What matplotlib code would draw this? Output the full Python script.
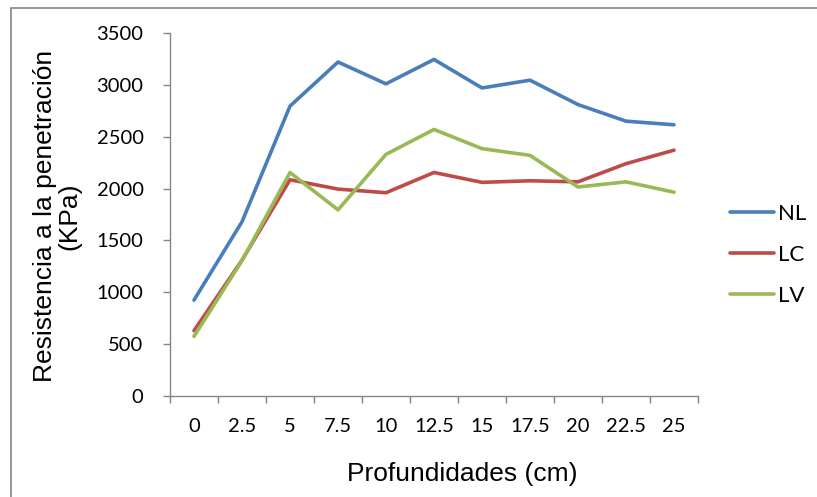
import matplotlib
matplotlib.use("Agg")
import matplotlib.pyplot as plt
from matplotlib.patches import Rectangle

# Depth categories (cm) and penetration resistance (KPa) per treatment
profundidades = ["0", "2.5", "5", "7.5", "10", "12.5", "15", "17.5", "20", "22.5", "25"]
nl = [925, 1680, 2795, 3220, 3010, 3245, 2970, 3045, 2810, 2650, 2615]
lc = [630, 1310, 2085, 1995, 1960, 2155, 2060, 2075, 2065, 2240, 2370]
lv = [575, 1305, 2155, 1795, 2330, 2570, 2385, 2320, 2015, 2065, 1965]
y_ticks = [0, 500, 1000, 1500, 2000, 2500, 3000, 3500]

series = [("NL", nl, "#4A7EBB"), ("LC", lc, "#BE4B48"), ("LV", lv, "#98B954")]

W, H = 817, 497
fig = plt.figure(figsize=(W / 100, H / 100), dpi=100)
fig.patch.set_facecolor("white")

# outer chart frame
fig.add_artist(Rectangle((11 / W, -0.01), 1.0, (H - 7.5) / H + 0.01,
                         transform=fig.transFigure, fill=False,
                         edgecolor="#868686", linewidth=1.2))

ax = fig.add_axes([170 / W, (H - 396) / H, (698 - 170) / W, (396 - 33) / H])
x = list(range(len(profundidades)))
lines = []
for name, vals, col in series:
    (ln,) = ax.plot(x, vals, color=col, linewidth=2.6, label=name,
                    solid_joinstyle="round", solid_capstyle="round")
    lines.append(ln)

axis_col = "#868686"
ax.set_xlim(-0.5, len(profundidades) - 0.5)
ax.set_ylim(0, 3500)
ax.set_yticks(y_ticks)
ax.set_yticklabels([str(v) for v in y_ticks])
ax.set_xticks(x)
ax.set_xticklabels(profundidades)
ax.set_xticks([i - 0.5 for i in range(len(profundidades) + 1)], minor=True)

for side in ("top", "right"):
    ax.spines[side].set_visible(False)
for side in ("left", "bottom"):
    ax.spines[side].set_color(axis_col)
    ax.spines[side].set_linewidth(1.0)

tick_font = dict(family=["Lato", "DejaVu Sans"], size=14.5)
ax.tick_params(axis="y", direction="out", length=5, width=1, color=axis_col,
               pad=14, labelcolor="#000000")
ax.tick_params(axis="x", which="major", length=0, pad=16, labelcolor="#000000")
ax.tick_params(axis="x", which="minor", direction="out", length=5, width=1,
               color=axis_col)
for lab in ax.get_yticklabels() + ax.get_xticklabels():
    lab.set_fontfamily(tick_font["family"])
    lab.set_fontsize(tick_font["size"])

title_font = dict(family=["Liberation Sans", "DejaVu Sans"], size=19)
fig.text(462 / W, 1 - 474 / H, "Profundidades (cm)", ha="center", va="center",
         **title_font)
fig.text(57 / W, 1 - 216 / H, "Resistencia a la penetración\n(KPa)",
         ha="center", va="center", rotation=90, linespacing=1.0, **title_font)

leg = fig.legend(handles=lines, loc="upper left",
                 bbox_to_anchor=(730 / W, 1 - 204 / H), frameon=False,
                 prop=dict(family=["Lato", "DejaVu Sans"], size=16),
                 handlelength=2.0, handletextpad=0.15, labelspacing=0.95,
                 borderaxespad=0, borderpad=0)

fig.savefig("out.png", dpi=100, facecolor="white")
